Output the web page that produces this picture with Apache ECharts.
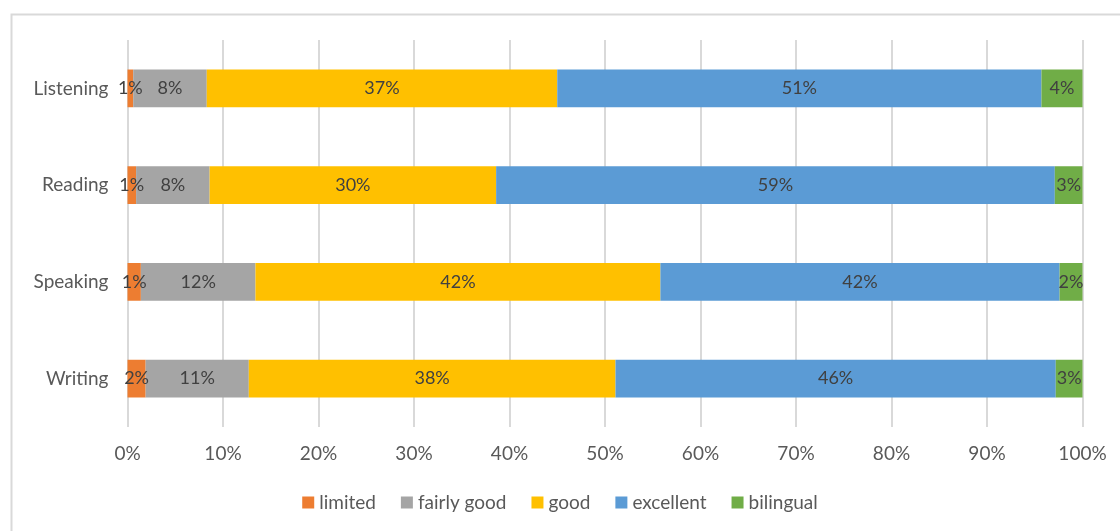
<!DOCTYPE html>
<html>
<head>
<meta charset="utf-8">
<script src="https://cdn.jsdelivr.net/npm/echarts@6/dist/echarts.min.js"></script>
<style>html,body{margin:0;padding:0;background:#fff}#c{width:1120px;height:531px}</style>
</head>
<body>
<div id="c"></div>
<script>
const categories = ['Listening', 'Reading', 'Speaking', 'Writing'];
const seriesNames = ['limited', 'fairly good', 'good', 'excellent', 'bilingual'];
const limited = [0.6, 0.9, 1.4, 1.9];
const fairlyGood = [7.7, 7.7, 12.0, 10.8];
const good = [36.7, 30.0, 42.4, 38.4];
const excellent = [50.7, 58.5, 41.8, 46.1];
const bilingual = [4.3, 2.9, 2.4, 2.8];
const tickLabels = ['0%', '10%', '20%', '30%', '40%', '50%', '60%', '70%', '80%', '90%', '100%'];
const colors = ['#ED7D31', '#A5A5A5', '#FFC000', '#5B9BD5', '#70AD47'];

const values = [limited, fairlyGood, good, excellent, bilingual];
const font = 'Lato, "Open Sans", sans-serif';

const chart = echarts.init(document.getElementById('c'), null, {renderer: 'canvas'});
chart.setOption({
  animation: false,
  backgroundColor: '#fff',
  graphic: [{
    type: 'rect', left: 9, top: 12, shape: {width: 1200, height: 600},
    style: {fill: 'none', stroke: '#D9D9D9', lineWidth: 2}, silent: true, z: -1
  }],
  grid: {left: 127.5, right: 37.5, top: 40, bottom: 104, containLabel: false},
  legend: {
    bottom: 14, left: 'center', itemWidth: 12, itemHeight: 12, itemGap: 25,
    icon: 'rect',
    textStyle: {color: '#595959', fontSize: 19, fontFamily: font},
    data: seriesNames
  },
  xAxis: {
    type: 'value', min: 0, max: 100, interval: 10,
    axisLine: {show: false}, axisTick: {show: false},
    splitLine: {lineStyle: {color: '#D9D9D9', width: 2}},
    axisLabel: {
      color: '#595959', fontSize: 19, fontFamily: font, margin: 17,
      formatter: v => tickLabels[Math.round(v / 10)]
    }
  },
  yAxis: {
    type: 'category', inverse: true, data: categories,
    axisLine: {show: false}, axisTick: {show: false},
    axisLabel: {color: '#595959', fontSize: 19, fontFamily: font, margin: 19}
  },
  series: seriesNames.map((n, i) => ({
    name: n, type: 'bar', stack: 'total', data: values[i],
    barCategoryGap: '61%',
    itemStyle: {color: colors[i]},
    label: {
      show: true, position: 'inside', color: '#404040', fontSize: 18, fontFamily: font,
      formatter: p => Math.round(p.value) + '%'
    }
  }))
});
</script>
</body>
</html>
